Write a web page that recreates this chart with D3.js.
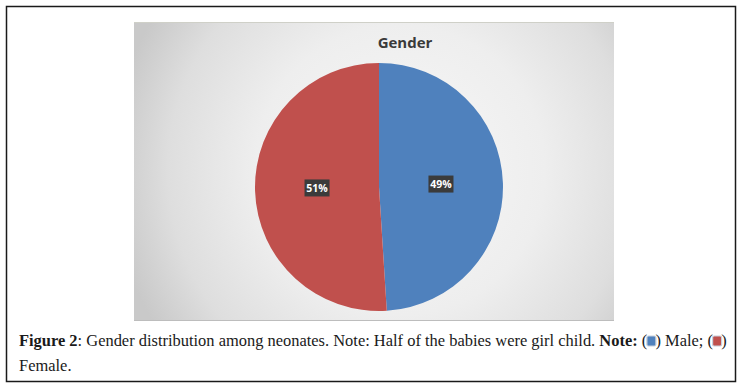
<!DOCTYPE html>
<html>
<head>
<meta charset="utf-8">
<script src="https://cdn.jsdelivr.net/npm/d3@7"></script>
<style>
  body { margin: 0; background: #fff; }
  svg { display: block; }
</style>
</head>
<body>
<div id="chart"></div>
<script>
// data
var categories = ["Male", "Female"];
var values = [49, 51];
var colors = ["#4f81bd", "#c0504d"];
var title = "Gender";

var W = 742, H = 388;
var svg = d3.select("#chart").append("svg")
    .attr("width", W)
    .attr("height", H);

// outer frame
svg.append("rect")
    .attr("x", 6.5).attr("y", 6.5)
    .attr("width", 729).attr("height", 375)
    .attr("fill", "#fff")
    .attr("stroke", "#1a1a1a")
    .attr("stroke-width", 1.5);

// chart picture area with radial background
var defs = svg.append("defs");
var grad = defs.append("radialGradient")
    .attr("id", "bg")
    .attr("gradientUnits", "userSpaceOnUse")
    .attr("cx", 400).attr("cy", 170).attr("r", 290);
grad.append("stop").attr("offset", "0").attr("stop-color", "#f8f8f8");
grad.append("stop").attr("offset", "0.5").attr("stop-color", "#eeeeee");
grad.append("stop").attr("offset", "0.8").attr("stop-color", "#dedede");
grad.append("stop").attr("offset", "1").attr("stop-color", "#c9c9c9");

var box = {x: 134, y: 22, w: 480, h: 299};
svg.append("rect")
    .attr("x", box.x).attr("y", box.y)
    .attr("width", box.w).attr("height", box.h)
    .attr("fill", "url(#bg)");
svg.append("line")
    .attr("x1", box.x).attr("x2", box.x + box.w)
    .attr("y1", box.y + 0.5).attr("y2", box.y + 0.5)
    .attr("stroke", "#cfd0c8");
svg.append("line")
    .attr("x1", box.x).attr("x2", box.x + box.w)
    .attr("y1", box.y + box.h - 0.5).attr("y2", box.y + box.h - 0.5)
    .attr("stroke", "#bdbdbd");

svg.append("text")
    .attr("x", 405).attr("y", 48)
    .attr("text-anchor", "middle")
    .attr("font-family", "'Open Sans', sans-serif")
    .attr("font-weight", "bold")
    .attr("font-size", 15)
    .attr("fill", "#3a3a3a")
    .text(title);

// pie
var cx = 379, cy = 187, r = 124;
var pie = d3.pie().sort(null).value(function(d) { return d; });
var arc = d3.arc().innerRadius(0).outerRadius(r);
var labelArc = d3.arc().innerRadius(r * 0.5).outerRadius(r * 0.5);
var arcs = pie(values);

var g = svg.append("g").attr("transform", "translate(" + cx + "," + cy + ")");
g.selectAll("path")
    .data(arcs)
    .enter().append("path")
    .attr("d", arc)
    .attr("fill", function(d, i) { return colors[i]; });

var lab = g.selectAll("g.lab")
    .data(arcs)
    .enter().append("g")
    .attr("class", "lab")
    .attr("transform", function(d) {
        var c = labelArc.centroid(d);
        return "translate(" + c[0] + "," + (c[1] - 1) + ")";
    });
lab.append("rect")
    .attr("x", -12.5).attr("y", -8.5)
    .attr("width", 25).attr("height", 17)
    .attr("fill", "#3b3b3b");
lab.append("text")
    .attr("text-anchor", "middle")
    .attr("dy", "0.36em")
    .attr("font-family", "'Open Sans', sans-serif")
    .attr("font-weight", "bold")
    .attr("font-size", 10.5)
    .attr("fill", "#fff")
    .text(function(d) { return d.data + "%"; });

// caption
var fs = 16;
var cap = svg.append("text")
    .attr("x", 19).attr("y", 346)
    .attr("font-family", "'Liberation Serif', serif")
    .attr("font-size", fs)
    .attr("fill", "#1a1a1a");
cap.append("tspan").attr("font-weight", "bold").text("Figure 2");
cap.append("tspan").text(": Gender distribution among neonates. Note: Half of the babies were girl child. ");
cap.append("tspan").attr("font-weight", "bold").text("Note:");
cap.append("tspan").text(" (\u2002) " + categories[0] + "; (\u2002)");
// fit the first caption line to the frame width
var capW = cap.node().getComputedTextLength();
fs = fs * 708 / capW;
cap.attr("font-size", fs);
svg.append("text")
    .attr("x", 19).attr("y", 371)
    .attr("font-family", "'Liberation Serif', serif")
    .attr("font-size", fs)
    .attr("fill", "#1a1a1a")
    .text(categories[1] + ".");

// legend swatches placed in the caption gaps
var capNode = cap.node();
var full = capNode.textContent;
var idx1 = full.indexOf("(\u2002)");
var idx2 = full.lastIndexOf("(\u2002)");
[idx1, idx2].forEach(function(k, i) {
    var a = capNode.getStartPositionOfChar(k + 1).x;
    var b = capNode.getEndPositionOfChar(k + 1).x;
    var m = (a + b) / 2;
    svg.append("rect")
        .attr("x", m - 4.5).attr("y", 336)
        .attr("width", 9).attr("height", 10)
        .attr("rx", 1.5)
        .attr("fill", colors[i])
        .attr("stroke", "#c8d0dc")
        .attr("stroke-width", 1.2);
});
</script>
</body>
</html>
